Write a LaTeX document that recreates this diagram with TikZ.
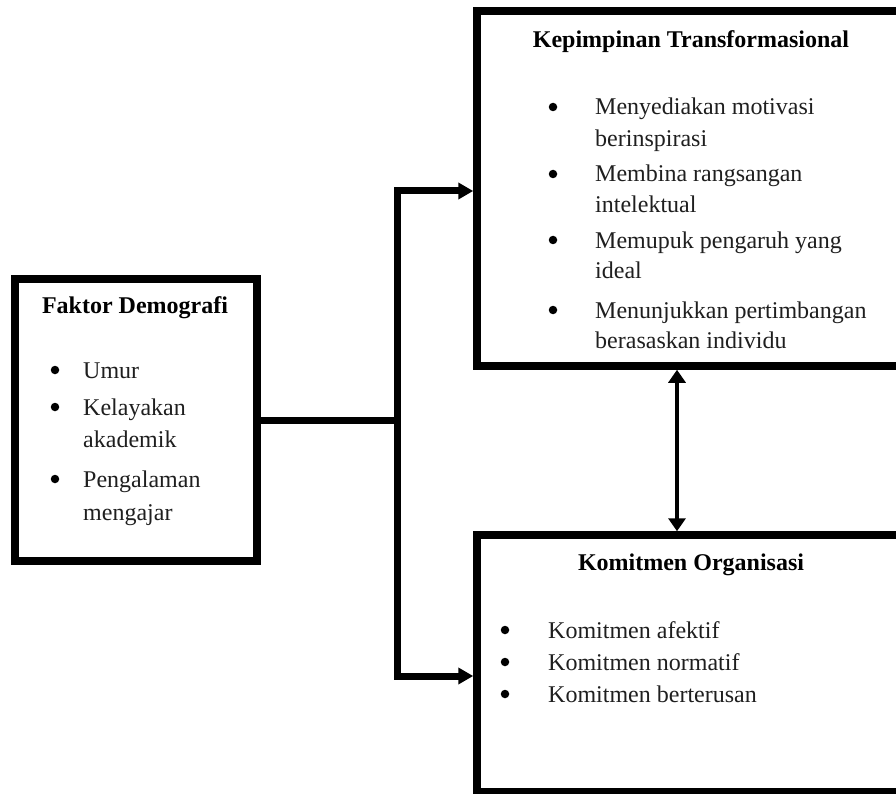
\documentclass[tikz,border=0pt]{standalone}
\usepackage{fontspec}
\setmainfont{Liberation Serif}
\usetikzlibrary{arrows.meta}
\begin{document}
\begin{tikzpicture}[x=1pt,y=-1pt,
  box/.style={draw, line width=7.5pt, rectangle, inner sep=0pt},
  ttl/.style={font=\fontsize{24}{28}\selectfont\bfseries, anchor=base, inner sep=0pt},
  itm/.style={font=\fontsize{24}{28}\selectfont, anchor=base west, inner sep=0pt, text=black!88},
  bul/.style={circle, fill=black, inner sep=0pt, minimum size=8.5pt},
  conn/.style={line width=7pt, miter limit=10},
  tip/.style={-{Triangle[length=15pt,width=16pt]}},
  dtip/.style={{Triangle[length=13pt,width=17pt]}-{Triangle[length=13pt,width=17pt]}}
]
\path[use as bounding box, clip] (0,0) rectangle (896,794);
\fill[white] (0,0) rectangle (896,794);

% boxes
\node[box, minimum width=242pt, minimum height=282pt] (fd) at (136,420) {};
\node[box, minimum width=428pt, minimum height=355pt] (kt) at (691,188.5) {};
\node[box, minimum width=428pt, minimum height=257pt] (ko) at (691,663.5) {};

% Faktor Demografi
\node[ttl] (fdt) at (135,313) {Faktor Demografi};
\node[bul] (fdb1) at (55,370) {};
\node[bul] (fdb2) at (55,407) {};
\node[bul] (fdb3) at (55,479) {};
\node[itm] (fd1) at (83,378) {Umur};
\node[itm] (fd2) at (83,415) {Kelayakan};
\node[itm] (fd3) at (83,447) {akademik};
\node[itm] (fd4) at (83,487) {Pengalaman};
\node[itm] (fd5) at (83,520) {mengajar};

% Kepimpinan Transformasional
\node[ttl] (ktt) at (691,48) {Kepimpinan Transformasional};
\node[bul] (ktb1) at (553,107) {};
\node[bul] (ktb2) at (553,174) {};
\node[bul] (ktb3) at (553,240) {};
\node[bul] (ktb4) at (553,310) {};
\node[itm] (kt1) at (595,115) {Menyediakan motivasi};
\node[itm] (kt2) at (595,147) {berinspirasi};
\node[itm] (kt3) at (595,182) {Membina rangsangan};
\node[itm] (kt4) at (595,213) {intelektual};
\node[itm] (kt5) at (595,248) {Memupuk pengaruh yang};
\node[itm] (kt6) at (595,278) {ideal};
\node[itm] (kt7) at (595,318) {Menunjukkan pertimbangan};
\node[itm] (kt8) at (595,348) {berasaskan individu};

% Komitmen Organisasi
\node[ttl] (kot) at (691,570) {Komitmen Organisasi};
\node[bul] (kob1) at (505,630) {};
\node[bul] (kob2) at (505,662) {};
\node[bul] (kob3) at (505,694) {};
\node[itm] (ko1) at (548,638) {Komitmen afektif};
\node[itm] (ko2) at (548,670) {Komitmen normatif};
\node[itm] (ko3) at (548,702) {Komitmen berterusan};

% connectors
\coordinate (jt) at (397,191);
\coordinate (jb) at (397,676);
\coordinate (da) at (677,0);
\draw[conn] (fd.east) -- (fd.east -| jt);
\draw[conn, tip] (jb) -- (jt) -- (kt.west |- jt);
\draw[conn, tip] (jt) -- (jb) -- (ko.west |- jb);
\draw[line width=4pt, dtip] (kt.south -| da) -- (ko.north -| da);
\end{tikzpicture}
\end{document}
